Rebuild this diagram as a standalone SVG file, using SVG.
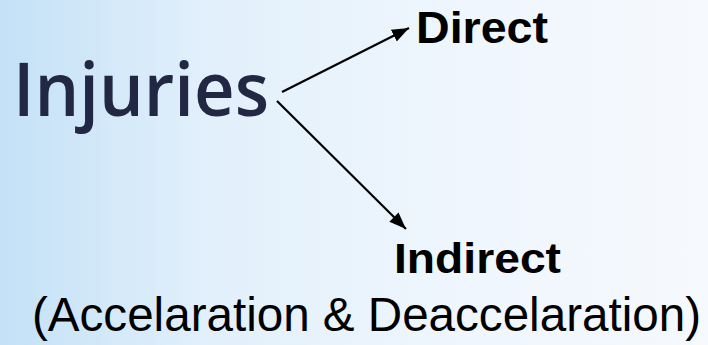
<svg xmlns="http://www.w3.org/2000/svg" width="708" height="345" viewBox="0 0 708 345">
  <style>
    .title { font-family: "Open Sans", "Noto Sans", sans-serif; font-size: 75px; font-weight: 600; fill: #222844; }
    .lbl { font-family: "Liberation Sans", Arial, sans-serif; font-weight: bold; fill: #000; }
    .sub { font-family: "Liberation Sans", Arial, sans-serif; font-size: 48px; fill: #000; }
    .conn { stroke: #000; stroke-width: 2.2; fill: none; marker-end: url(#ah); }
  </style>
  <defs>
    <linearGradient id="bg" x1="0" y1="0" x2="1" y2="0">
      <stop offset="0" stop-color="#c4e1f7"/>
      <stop offset="0.3" stop-color="#e2f0fb"/>
      <stop offset="0.65" stop-color="#eff6fd"/>
      <stop offset="1" stop-color="#f6f9fd"/>
    </linearGradient>
    <marker id="ah" markerUnits="userSpaceOnUse" markerWidth="18" markerHeight="14" refX="17" refY="6.5" orient="auto" viewBox="0 0 18 13">
      <path d="M0,0 L17,6.5 L0,13 z" fill="#000"/>
    </marker>
  </defs>
  <rect width="708" height="345" fill="url(#bg)"/>
  <g id="connectors">
    <line class="conn" x1="282" y1="92" x2="409" y2="28"/>
    <line class="conn" x1="277" y1="101" x2="406" y2="229"/>
  </g>
  <g id="injuries">
    <text class="title" x="13" y="116" textLength="256" lengthAdjust="spacingAndGlyphs">Injuries</text>
  </g>
  <g id="direct">
    <text class="lbl" x="416" y="43" font-size="44" textLength="132" lengthAdjust="spacingAndGlyphs">Direct</text>
  </g>
  <g id="indirect">
    <text class="lbl" x="394" y="273" font-size="42" textLength="167" lengthAdjust="spacingAndGlyphs">Indirect</text>
    <text class="sub" x="32" y="331" textLength="669" lengthAdjust="spacingAndGlyphs">(Accelaration &amp; Deaccelaration)</text>
  </g>
</svg>
